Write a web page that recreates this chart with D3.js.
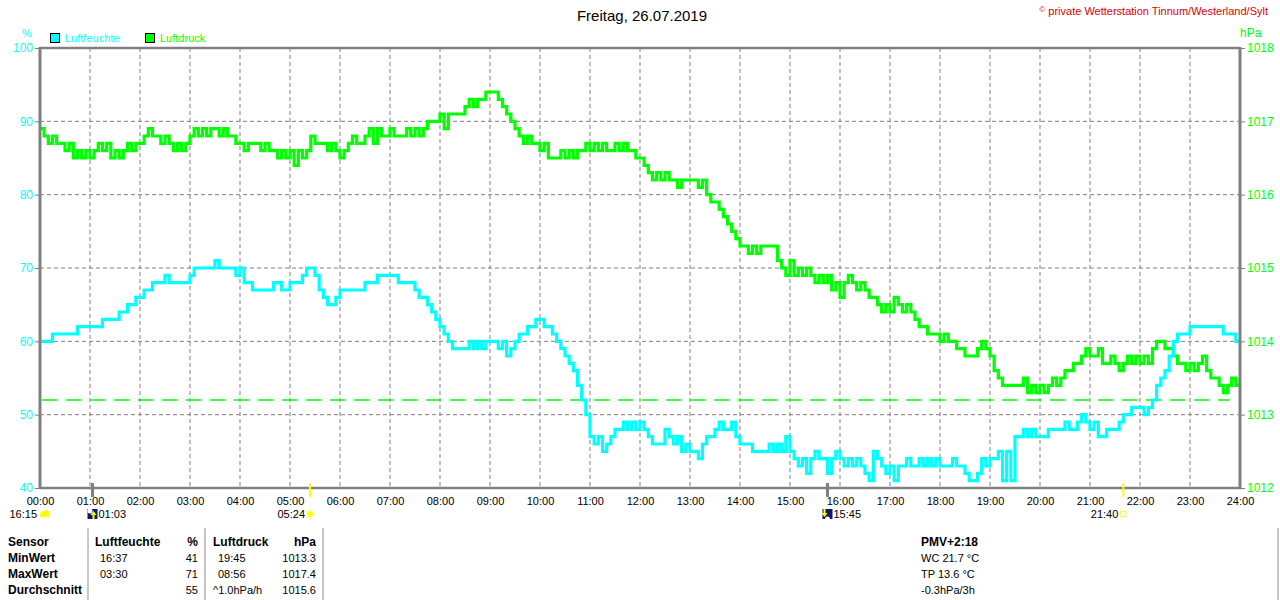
<!DOCTYPE html>
<html><head><meta charset="utf-8">
<script src="https://cdn.jsdelivr.net/npm/d3@7"></script>
<style>
html,body{margin:0;padding:0;background:#fff;}
svg{display:block;font-family:"Liberation Sans",Arial,sans-serif;}
</style></head>
<body><svg id="c" width="1280" height="600"></svg>
<script>
// ---------- DATA ----------
const title = "Freitag, 26.07.2019";
const copyright = "private Wetterstation Tinnum/Westerland/Sylt";
const stepMinutes = 5;
const hourTicks = ["00:00","01:00","02:00","03:00","04:00","05:00","06:00","07:00","08:00","09:00","10:00","11:00","12:00","13:00","14:00","15:00","16:00","17:00","18:00","19:00","20:00","21:00","22:00","23:00","24:00"];
const humTicks = [40,50,60,70,80,90,100];
const presTicks = [1012,1013,1014,1015,1016,1017,1018];
const presRefLine = 1013.2;

// Luftdruck (hPa), every 5 minutes, one row per hour
const pressure = [
1016.9,1016.8,1016.7,1016.8,1016.7,1016.7,1016.6,1016.7,1016.5,1016.6,1016.5,1016.6,
1016.5,1016.6,1016.7,1016.6,1016.7,1016.5,1016.6,1016.5,1016.6,1016.7,1016.6,1016.7,
1016.7,1016.8,1016.9,1016.8,1016.8,1016.7,1016.8,1016.7,1016.6,1016.7,1016.6,1016.7,
1016.8,1016.9,1016.8,1016.9,1016.8,1016.9,1016.9,1016.8,1016.9,1016.8,1016.8,1016.7,
1016.7,1016.6,1016.7,1016.7,1016.7,1016.6,1016.7,1016.6,1016.6,1016.5,1016.6,1016.5,
1016.6,1016.4,1016.6,1016.5,1016.6,1016.8,1016.7,1016.7,1016.7,1016.6,1016.7,1016.6,
1016.5,1016.6,1016.7,1016.8,1016.7,1016.7,1016.8,1016.9,1016.7,1016.9,1016.8,1016.8,
1016.9,1016.8,1016.8,1016.8,1016.9,1016.8,1016.9,1016.8,1016.9,1017.0,1017.0,1017.0,
1017.1,1016.9,1017.1,1017.1,1017.1,1017.1,1017.2,1017.3,1017.2,1017.3,1017.3,1017.4,
1017.4,1017.4,1017.3,1017.2,1017.1,1017.0,1016.9,1016.8,1016.7,1016.8,1016.7,1016.7,
1016.6,1016.7,1016.5,1016.5,1016.5,1016.6,1016.5,1016.6,1016.5,1016.6,1016.6,1016.7,
1016.6,1016.7,1016.6,1016.7,1016.6,1016.6,1016.7,1016.6,1016.7,1016.6,1016.6,1016.5,
1016.5,1016.4,1016.3,1016.2,1016.3,1016.2,1016.3,1016.2,1016.2,1016.1,1016.2,1016.2,
1016.2,1016.2,1016.1,1016.2,1016.0,1015.9,1015.9,1015.8,1015.7,1015.6,1015.5,1015.4,
1015.3,1015.3,1015.2,1015.3,1015.2,1015.3,1015.3,1015.3,1015.3,1015.1,1015.0,1014.9,
1015.1,1014.9,1015.0,1014.9,1015.0,1014.9,1014.8,1014.9,1014.8,1014.9,1014.7,1014.8,
1014.6,1014.8,1014.9,1014.8,1014.7,1014.8,1014.7,1014.6,1014.6,1014.5,1014.4,1014.5,
1014.4,1014.6,1014.5,1014.4,1014.5,1014.4,1014.3,1014.2,1014.2,1014.1,1014.1,1014.1,
1014.0,1014.1,1014.0,1014.0,1013.9,1013.9,1013.8,1013.8,1013.8,1013.9,1014.0,1013.9,
1013.8,1013.6,1013.5,1013.4,1013.4,1013.4,1013.4,1013.4,1013.5,1013.3,1013.4,1013.3,
1013.4,1013.3,1013.4,1013.5,1013.4,1013.5,1013.6,1013.6,1013.7,1013.7,1013.8,1013.9,
1013.8,1013.8,1013.9,1013.7,1013.7,1013.8,1013.7,1013.6,1013.7,1013.8,1013.7,1013.8,
1013.7,1013.8,1013.7,1013.9,1014.0,1014.0,1013.9,1013.9,1013.8,1013.7,1013.7,1013.6,
1013.7,1013.6,1013.7,1013.8,1013.6,1013.5,1013.5,1013.4,1013.3,1013.4,1013.5,1013.4,
1013.5];

// Luftfeuchte (%), every 5 minutes, one row per hour
const humidity = [
60,60,60,61,61,61,61,61,61,62,62,62,
62,62,62,63,63,63,63,64,64,65,65,66,
66,67,67,68,68,68,69,68,68,68,68,68,
69,70,70,70,70,70,71,70,70,70,70,69,
70,68,68,67,67,67,67,67,68,68,67,67,
68,68,68,69,70,70,69,67,66,65,65,66,
67,67,67,67,67,67,68,68,68,69,69,69,
69,69,68,68,68,68,67,66,66,65,64,63,
62,61,60,59,59,59,59,60,59,60,59,60,
60,60,59,60,58,59,60,61,61,62,62,63,
63,62,62,61,60,59,58,57,56,54,52,50,
47,46,47,45,46,47,48,48,49,48,49,48,
49,48,47,46,46,46,48,47,46,47,45,46,
45,45,44,46,47,47,48,49,48,48,49,47,
46,46,46,45,45,45,45,46,45,46,45,47,
45,44,43,44,42,44,45,44,44,42,44,45,
44,43,44,43,44,43,42,41,45,44,43,42,
43,41,43,43,44,43,43,44,43,44,43,44,
43,43,43,44,43,43,42,41,41,42,44,43,
44,44,45,41,45,41,47,47,48,47,48,47,
47,47,48,48,48,48,49,48,48,49,50,49,
48,49,47,47,48,48,48,49,50,50,51,51,
51,50,51,52,54,55,56,58,60,61,61,61,
62,62,62,62,62,62,62,62,61,61,61,60,
60];

// astronomical events under the time axis
const events = [
  {time: 1 + 3/60,  label: "01:03", icon: "moonrise", side: "right"},
  {time: 5 + 24/60, label: "05:24", icon: "sunrise",  side: "left"},
  {time: 15 + 45/60,label: "15:45", icon: "moonset",  side: "right"},
  {time: 21 + 40/60,label: "21:40", icon: "sunset",   side: "left"}
];
const moonLabel = "16:15";

const tableHeader = ["Sensor","Luftfeuchte","%","Luftdruck","hPa"];
const tableRows = [
  ["MinWert","16:37","41","19:45","1013.3"],
  ["MaxWert","03:30","71","08:56","1017.4"],
  ["Durchschnitt","","55","^1.0hPa/h","1015.6"]
];
const extraTitle = "PMV+2:18";
const extraLines = ["WC 21.7 °C","TP 13.6 °C","-0.3hPa/3h"];

// ---------- DRAW ----------
const CYAN = "#00ffff", GREEN = "#00ff00", GRAY = "#808080";
const svg = d3.select("#c");
svg.append("rect").attr("width",1280).attr("height",600).attr("fill","#fff");

const L = 40, R = 1240, T = 48, B = 488;
const x = d3.scaleLinear().domain([0,24]).range([L,R]);
const yH = d3.scaleLinear().domain([40,100]).range([B,T]);
const yP = d3.scaleLinear().domain([1012,1018]).range([B,T]);

// grid
const g = svg.append("g");
g.selectAll(".vg").data(d3.range(1,24)).join("line")
  .attr("x1",d=>x(d)).attr("x2",d=>x(d)).attr("y1",T).attr("y2",B)
  .attr("stroke",GRAY).attr("stroke-width",1).attr("stroke-dasharray","4,3");
g.selectAll(".hg").data(humTicks.slice(1,-1)).join("line")
  .attr("x1",L).attr("x2",R).attr("y1",d=>yH(d)).attr("y2",d=>yH(d))
  .attr("stroke",GRAY).attr("stroke-width",1).attr("stroke-dasharray","4,3");

// reference dashed line (pressure)
svg.append("line").attr("x1",L+2).attr("x2",x(23.8)).attr("y1",yP(presRefLine)).attr("y2",yP(presRefLine))
  .attr("stroke",GREEN).attr("stroke-width",1.5).attr("stroke-dasharray","15,9");

// series lines
const tOf = i => i*stepMinutes/60;
const lineP = d3.line().x((d,i)=>x(tOf(i))).y(d=>yP(d)).curve(d3.curveStepAfter);
const lineH = d3.line().x((d,i)=>x(tOf(i))).y(d=>yH(d)).curve(d3.curveStepAfter);
svg.append("clipPath").attr("id","pc").append("rect").attr("x",L).attr("y",T-4).attr("width",R-L).attr("height",B-T+4);
svg.append("path").attr("d",lineP(pressure)).attr("fill","none").attr("stroke",GREEN).attr("stroke-width",3.2).attr("clip-path","url(#pc)");
svg.append("path").attr("d",lineH(humidity)).attr("fill","none").attr("stroke",CYAN).attr("stroke-width",3.2).attr("clip-path","url(#pc)");

// frame
svg.append("line").attr("x1",L).attr("x2",R).attr("y1",T).attr("y2",T).attr("stroke",GRAY).attr("stroke-width",2.5);
svg.append("line").attr("x1",L).attr("x2",R+1).attr("y1",B).attr("y2",B).attr("stroke",GRAY).attr("stroke-width",2.5);
svg.append("line").attr("x1",L).attr("x2",L).attr("y1",T-1).attr("y2",B+1).attr("stroke",GRAY).attr("stroke-width",3);
svg.append("line").attr("x1",R).attr("x2",R).attr("y1",T-1).attr("y2",B+1).attr("stroke",GRAY).attr("stroke-width",3);

// left axis
const axL = d3.axisLeft(yH).tickValues(humTicks).tickFormat(d3.format("d")).tickSize(4).tickPadding(2);
const gL = svg.append("g").attr("transform",`translate(${L-1},0)`).call(axL);
gL.select(".domain").remove();
gL.selectAll("line").attr("stroke",GRAY);
gL.selectAll("text").attr("fill",CYAN).style("font-size","12px").style("font-family","'Liberation Sans',Arial,sans-serif");
// right axis
const axR = d3.axisRight(yP).tickValues(presTicks).tickFormat(d3.format("d")).tickSize(4).tickPadding(2);
const gR = svg.append("g").attr("transform",`translate(${R+1},0)`).call(axR);
gR.select(".domain").remove();
gR.selectAll("line").attr("stroke",GRAY);
gR.selectAll("text").attr("fill",GREEN).style("font-size","12px").style("font-family","'Liberation Sans',Arial,sans-serif");
// bottom axis labels
const axB = d3.axisBottom(x).tickValues(d3.range(0,25)).tickFormat((d,i)=>hourTicks[i]).tickSize(0).tickPadding(9);
const gB = svg.append("g").attr("transform",`translate(0,${B})`).call(axB);
gB.select(".domain").remove();
gB.selectAll("text").attr("fill","#000").style("font-size","11px").style("font-family","'Liberation Sans',Arial,sans-serif");

// unit labels
svg.append("text").attr("x",27).attr("y",37).attr("text-anchor","middle").attr("fill",CYAN).style("font-size","11px").text("%");
svg.append("text").attr("x",1240).attr("y",37).attr("fill",GREEN).style("font-size","12px").text("hPa");

// title + copyright
svg.append("text").attr("x",642).attr("y",21).attr("text-anchor","middle").attr("fill","#000").style("font-size","15px").text(title);
const ct = svg.append("text").attr("x",1268).attr("y",15).attr("text-anchor","end").attr("fill","#e00000").style("font-size","11px");
ct.append("tspan").style("font-size","8px").attr("dy",-3).text("©");
ct.append("tspan").attr("dy",3).text(" " + copyright);

// legend
const legend = [{n:"Luftfeuchte",c:CYAN,x:50},{n:"Luftdruck",c:GREEN,x:145}];
legend.forEach(l=>{
  svg.append("rect").attr("x",l.x+0.5).attr("y",33.5).attr("width",9).attr("height",9).attr("fill",l.c).attr("stroke","#000").attr("stroke-width",1);
  svg.append("text").attr("x",l.x+15).attr("y",42).attr("fill",l.c).style("font-size","11px").text(l.n);
});

// events
const evY = 514;
events.forEach(e=>{
  const cx = x(e.time);
  const isSun = e.icon.startsWith("sun");
  svg.append("line").attr("x1",cx).attr("x2",cx).attr("y1",B-5).attr("y2",B+9)
    .attr("stroke",isSun?"#ffff00":GRAY).attr("stroke-width",isSun?2:3);
  const ig = svg.append("g").attr("transform",`translate(${cx},${evY})`);
  if (e.icon==="moonrise" || e.icon==="moonset"){
    ig.append("rect").attr("x",-5).attr("y",-5).attr("width",10).attr("height",10).attr("fill","#101870");
    if (e.icon==="moonrise"){
      ig.append("circle").attr("cx",-2.5).attr("cy",-3).attr("r",2.5).attr("fill","#fff");
      ig.append("path").attr("d","M1,-3 L4,1 L2,1 L2,5 L0,5 L0,1 L-2,1 Z").attr("fill","#ffff00");
    } else {
      ig.append("path").attr("d","M-4,-5 L-2,-5 L-2,-1 L0,-1 L-3,3 L-6,-1 L-4,-1 Z").attr("fill","#ffff00");
      ig.append("circle").attr("cx",0).attr("cy",5).attr("r",2.5).attr("fill","#fff");
    }
  } else if (e.icon==="sunrise"){
    ig.append("circle").attr("r",3).attr("fill","#ffff00");
    d3.range(8).forEach(k=>{
      const a = k*Math.PI/4;
      ig.append("line").attr("x1",Math.cos(a)*4).attr("y1",Math.sin(a)*4).attr("x2",Math.cos(a)*5.5).attr("y2",Math.sin(a)*5.5)
        .attr("stroke","#ffff80").attr("stroke-width",1.2);
    });
  } else {
    ig.append("rect").attr("x",-2.5).attr("y",-2.5).attr("width",5).attr("height",5).attr("fill","none").attr("stroke","#ffff00").attr("stroke-width",1);
  }
  const tx = e.side==="right" ? cx+6 : cx-5;
  svg.append("text").attr("x",tx).attr("y",evY+4).attr("text-anchor",e.side==="right"?"start":"end")
    .attr("fill","#000").style("font-size","11px").text(e.label);
});
// moon phase / cloud at left
svg.append("text").attr("x",37).attr("y",evY+4).attr("text-anchor","end").attr("fill","#000").style("font-size","11px").text(moonLabel);
svg.append("path").attr("d","M40,517 L40,514 Q41,511 44,511 Q45,509 47,510 Q50,511 50,514 L50,517 Z").attr("fill","#ffff00");

// table
const tblLineX = [88,205,323,1278];
tblLineX.forEach(lx=>svg.append("line").attr("x1",lx).attr("x2",lx).attr("y1",528).attr("y2",600).attr("stroke","#a0a0a0").attr("stroke-width",1.2));
const rowY = [546,562,578,594];
const colX = [{x:8,a:"start"},{x:95,a:"start"},{x:198,a:"end"},{x:213,a:"start"},{x:316,a:"end"}];
tableHeader.forEach((h,i)=>{
  svg.append("text").attr("x",colX[i].x).attr("y",rowY[0]).attr("text-anchor",colX[i].a)
    .attr("fill","#000").style("font-size","12px").style("font-weight","bold").text(h);
});
const valX = [{x:8,a:"start"},{x:100,a:"start"},{x:198,a:"end"},{x:218,a:"start"},{x:316,a:"end"}];
tableRows.forEach((r,ri)=>{
  r.forEach((v,ci)=>{
    let cx = valX[ci].x;
    if (ci===3 && v.startsWith("^")) cx = 213;
    svg.append("text").attr("x",cx).attr("y",rowY[ri+1]).attr("text-anchor",valX[ci].a)
      .attr("fill","#000").style("font-size",ci===0?"12px":"11px").style("font-weight",ci===0?"bold":"normal").text(v);
  });
});
svg.append("text").attr("x",921).attr("y",rowY[0]).attr("fill","#000").style("font-size","12px").style("font-weight","bold").text(extraTitle);
extraLines.forEach((t,i)=>svg.append("text").attr("x",921).attr("y",rowY[i+1]).attr("fill","#000").style("font-size","11px").text(t));
</script>
</body></html>
